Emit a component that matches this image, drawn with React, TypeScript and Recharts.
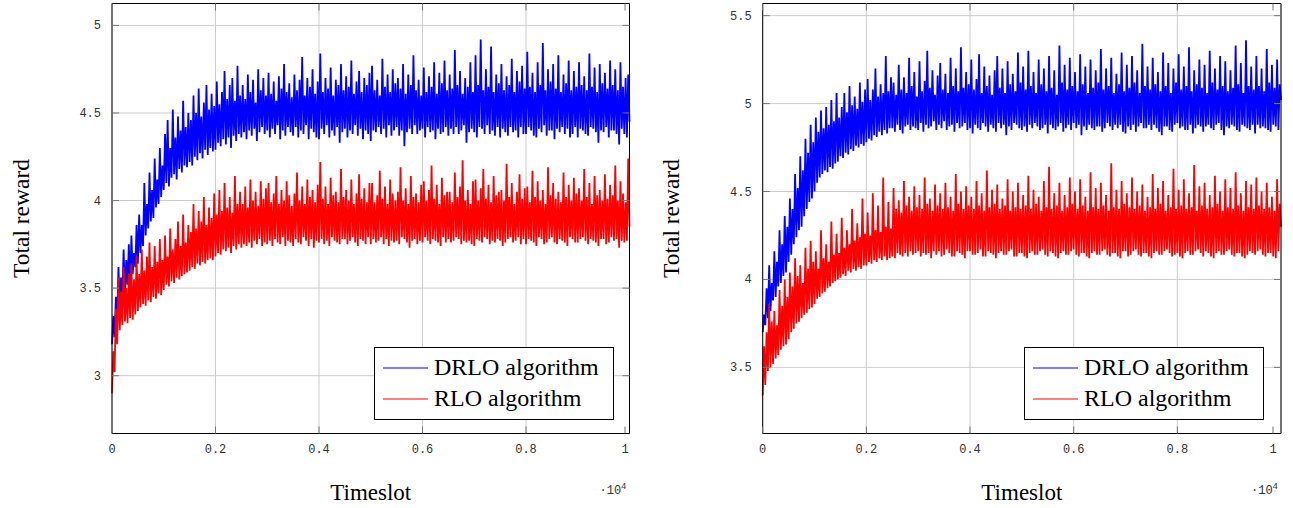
import React from 'react';
import { LineChart, Line, XAxis, YAxis, CartesianGrid, Legend } from 'recharts';

// one sample every 25 timeslots, 0 .. 10000 (401 samples per run)
const SAMPLE_STEP = 25;

// left panel
const leftDrlo = [
  3.18, 3.34, 3.22, 3.45, 3.31, 3.62, 3.40, 3.56, 3.47, 3.72, 3.45, 3.66, 3.52, 3.75, 3.50, 3.80, 3.58, 3.70, 3.62, 3.86,
  3.64, 3.92, 3.70, 3.86, 3.74, 4.10, 3.80, 3.98, 3.84, 4.16, 3.88, 4.06, 3.90, 4.24, 3.96, 4.12, 3.98, 4.30, 4.02, 4.20,
  4.06, 4.38, 4.10, 4.46, 4.08, 4.30, 4.13, 4.52, 4.15, 4.36, 4.12, 4.48, 4.18, 4.40, 4.16, 4.57, 4.20, 4.42, 4.19, 4.50,
  4.22, 4.46, 4.20, 4.60, 4.25, 4.50, 4.23, 4.64, 4.27, 4.48, 4.24, 4.56, 4.29, 4.66, 4.26, 4.52, 4.30, 4.61, 4.28, 4.54,
  4.29, 4.68, 4.33, 4.55, 4.31, 4.62, 4.35, 4.74, 4.32, 4.58, 4.36, 4.66, 4.30, 4.70, 4.37, 4.57, 4.34, 4.77, 4.38, 4.60,
  4.36, 4.66, 4.39, 4.58, 4.35, 4.72, 4.40, 4.62, 4.37, 4.69, 4.41, 4.56, 4.34, 4.75, 4.39, 4.63, 4.42, 4.70, 4.38, 4.60,
  4.40, 4.73, 4.36, 4.61, 4.41, 4.68, 4.38, 4.57, 4.43, 4.71, 4.35, 4.64, 4.40, 4.78, 4.37, 4.62, 4.42, 4.67, 4.39, 4.59,
  4.37, 4.72, 4.42, 4.63, 4.36, 4.69, 4.40, 4.82, 4.38, 4.60, 4.43, 4.70, 4.35, 4.65, 4.41, 4.75, 4.39, 4.61, 4.36, 4.68,
  4.35, 4.84, 4.41, 4.62, 4.38, 4.70, 4.43, 4.64, 4.36, 4.76, 4.40, 4.60, 4.37, 4.69, 4.42, 4.66, 4.33, 4.78, 4.39, 4.63,
  4.41, 4.71, 4.36, 4.65, 4.40, 4.80, 4.38, 4.61, 4.43, 4.68, 4.37, 4.74, 4.41, 4.62, 4.35, 4.70, 4.40, 4.66, 4.38, 4.73,
  4.34, 4.77, 4.40, 4.63, 4.39, 4.69, 4.42, 4.60, 4.38, 4.81, 4.41, 4.65, 4.36, 4.72, 4.43, 4.62, 4.37, 4.75, 4.40, 4.67,
  4.42, 4.70, 4.37, 4.64, 4.40, 4.78, 4.31, 4.61, 4.39, 4.72, 4.41, 4.66, 4.38, 4.83, 4.43, 4.63, 4.38, 4.69, 4.40, 4.60,
  4.41, 4.76, 4.36, 4.62, 4.42, 4.71, 4.39, 4.65, 4.40, 4.79, 4.35, 4.61, 4.41, 4.73, 4.38, 4.67, 4.39, 4.80, 4.42, 4.63,
  4.37, 4.72, 4.41, 4.64, 4.38, 4.86, 4.42, 4.66, 4.38, 4.74, 4.40, 4.61, 4.43, 4.70, 4.33, 4.65, 4.39, 4.79, 4.41, 4.62,
  4.39, 4.83, 4.36, 4.66, 4.42, 4.92, 4.41, 4.63, 4.38, 4.75, 4.43, 4.65, 4.38, 4.88, 4.40, 4.62, 4.37, 4.72, 4.42, 4.67,
  4.36, 4.78, 4.41, 4.63, 4.39, 4.71, 4.37, 4.66, 4.42, 4.81, 4.39, 4.62, 4.40, 4.74, 4.36, 4.68, 4.42, 4.77, 4.38, 4.64,
  4.38, 4.85, 4.42, 4.65, 4.40, 4.73, 4.37, 4.62, 4.36, 4.79, 4.41, 4.66, 4.39, 4.90, 4.43, 4.63, 4.37, 4.75, 4.40, 4.68,
  4.40, 4.78, 4.35, 4.64, 4.41, 4.83, 4.39, 4.62, 4.42, 4.72, 4.38, 4.67, 4.41, 4.80, 4.36, 4.63, 4.38, 4.74, 4.42, 4.65,
  4.36, 4.79, 4.41, 4.66, 4.40, 4.71, 4.38, 4.63, 4.37, 4.84, 4.42, 4.65, 4.41, 4.76, 4.39, 4.62, 4.33, 4.78, 4.40, 4.67,
  4.39, 4.73, 4.42, 4.64, 4.36, 4.80, 4.40, 4.66, 4.40, 4.75, 4.38, 4.63, 4.32, 4.79, 4.41, 4.65, 4.38, 4.70, 4.36, 4.72,
  4.45,
];
const leftRlo = [
  2.90, 3.14, 3.02, 3.38, 3.18, 3.56, 3.26, 3.48, 3.29, 3.62, 3.31, 3.50, 3.30, 3.58, 3.33, 3.64, 3.32, 3.55, 3.35, 3.68,
  3.37, 3.58, 3.39, 3.72, 3.41, 3.60, 3.40, 3.68, 3.43, 3.76, 3.42, 3.62, 3.45, 3.74, 3.44, 3.65, 3.47, 3.78, 3.46, 3.66,
  3.49, 3.80, 3.52, 3.68, 3.51, 3.84, 3.54, 3.72, 3.53, 3.78, 3.56, 3.88, 3.55, 3.74, 3.57, 3.92, 3.58, 3.76, 3.59, 3.86,
  3.60, 3.82, 3.62, 3.98, 3.61, 3.84, 3.64, 3.94, 3.63, 3.88, 3.65, 4.02, 3.64, 3.86, 3.66, 3.96, 3.67, 3.90, 3.66, 4.04,
  3.68, 3.92, 3.70, 4.06, 3.69, 3.94, 3.72, 4.10, 3.71, 3.96, 3.73, 4.02, 3.70, 3.93, 3.74, 4.14, 3.72, 3.98, 3.75, 4.05,
  3.73, 3.98, 3.75, 4.08, 3.74, 3.96, 3.76, 4.12, 3.73, 4.00, 3.77, 4.05, 3.75, 3.97, 3.78, 4.11, 3.74, 4.01, 3.76, 4.07,
  3.75, 4.10, 3.77, 3.99, 3.74, 4.04, 3.78, 4.14, 3.76, 3.98, 3.75, 4.06, 3.79, 4.00, 3.74, 4.11, 3.77, 4.03, 3.76, 3.97,
  3.74, 4.04, 3.78, 4.16, 3.76, 4.00, 3.75, 4.08, 3.79, 3.98, 3.77, 4.12, 3.74, 4.02, 3.78, 4.06, 3.73, 3.99, 3.77, 4.09,
  3.76, 4.22, 3.78, 4.01, 3.75, 4.08, 3.77, 3.98, 3.74, 4.13, 3.79, 4.03, 3.77, 4.05, 3.76, 3.99, 3.75, 4.18, 3.78, 4.02,
  3.78, 4.06, 3.75, 4.00, 3.77, 4.12, 3.79, 3.98, 3.76, 4.04, 3.74, 4.15, 3.78, 4.01, 3.77, 4.07, 3.75, 3.99, 3.79, 4.10,
  3.75, 4.10, 3.78, 3.99, 3.76, 4.03, 3.77, 4.17, 3.79, 4.01, 3.75, 4.08, 3.78, 3.98, 3.74, 4.12, 3.77, 4.04, 3.76, 4.00,
  3.77, 4.05, 3.75, 4.19, 3.79, 4.00, 3.78, 4.07, 3.76, 3.98, 3.73, 4.14, 3.77, 4.02, 3.78, 4.04, 3.75, 3.99, 3.77, 4.09,
  3.76, 4.11, 3.79, 4.00, 3.77, 4.06, 3.75, 4.20, 3.78, 4.01, 3.77, 4.09, 3.76, 3.98, 3.74, 4.13, 3.79, 4.03, 3.76, 4.05,
  3.78, 4.05, 3.76, 3.99, 3.77, 4.16, 3.79, 4.02, 3.78, 4.08, 3.75, 4.23, 3.77, 4.00, 3.76, 4.06, 3.77, 3.98, 3.75, 4.11,
  3.74, 4.12, 3.78, 4.00, 3.77, 4.07, 3.76, 4.18, 3.79, 4.01, 3.78, 4.09, 3.75, 3.99, 3.77, 4.14, 3.76, 4.03, 3.78, 4.05,
  3.77, 4.06, 3.74, 4.00, 3.76, 4.21, 3.78, 4.02, 3.79, 4.10, 3.76, 3.98, 3.77, 4.05, 3.79, 4.15, 3.75, 4.01, 3.78, 4.07,
  3.75, 4.08, 3.78, 3.99, 3.77, 4.17, 3.76, 4.02, 3.74, 4.11, 3.79, 4.00, 3.78, 4.06, 3.75, 3.98, 3.76, 4.19, 3.78, 4.03,
  3.79, 4.10, 3.76, 4.01, 3.75, 4.05, 3.78, 3.99, 3.77, 4.16, 3.76, 4.02, 3.74, 4.09, 3.79, 4.00, 3.78, 4.13, 3.76, 4.04,
  3.76, 4.07, 3.78, 4.00, 3.79, 4.18, 3.77, 4.02, 3.75, 4.10, 3.78, 3.98, 3.77, 4.14, 3.76, 4.03, 3.74, 4.06, 3.78, 4.00,
  3.78, 4.15, 3.75, 4.01, 3.76, 4.09, 3.79, 4.03, 3.77, 4.20, 3.78, 4.00, 3.73, 4.11, 3.77, 4.04, 3.76, 3.99, 3.77, 4.24,
  3.85,
];

// right panel
const rightDrlo = [
  3.70, 3.80, 3.74, 3.95, 3.78, 4.08, 3.82, 3.98, 3.88, 4.16, 3.90, 4.10, 3.96, 4.28, 3.98, 4.20, 4.02, 4.36, 4.04, 4.30,
  4.10, 4.46, 4.14, 4.40, 4.20, 4.60, 4.24, 4.52, 4.28, 4.70, 4.30, 4.62, 4.36, 4.80, 4.40, 4.72, 4.44, 4.88, 4.46, 4.78,
  4.50, 4.92, 4.55, 4.84, 4.58, 4.96, 4.60, 4.86, 4.62, 4.98, 4.61, 4.88, 4.64, 5.02, 4.63, 4.90, 4.66, 5.06, 4.67, 4.92,
  4.70, 4.98, 4.69, 5.06, 4.72, 4.95, 4.71, 5.10, 4.74, 4.99, 4.73, 5.04, 4.76, 4.97, 4.75, 5.12, 4.77, 5.01, 4.76, 5.08,
  4.78, 5.14, 4.80, 5.02, 4.79, 5.08, 4.82, 5.20, 4.81, 5.04, 4.84, 5.11, 4.82, 5.06, 4.85, 5.27, 4.83, 5.07, 4.86, 5.15,
  4.86, 5.12, 4.84, 5.05, 4.88, 5.22, 4.85, 5.08, 4.83, 5.15, 4.87, 5.06, 4.88, 5.26, 4.85, 5.10, 4.87, 5.18, 4.86, 5.04,
  4.85, 5.24, 4.89, 5.07, 4.84, 5.13, 4.88, 5.30, 4.86, 5.09, 4.87, 5.19, 4.90, 5.05, 4.85, 5.16, 4.88, 5.23, 4.86, 5.08,
  4.90, 5.17, 4.85, 5.06, 4.87, 5.26, 4.88, 5.10, 4.84, 5.20, 4.89, 5.07, 4.86, 5.32, 4.87, 5.09, 4.89, 5.18, 4.85, 5.11,
  4.86, 5.25, 4.83, 5.08, 4.88, 5.14, 4.86, 5.28, 4.85, 5.06, 4.89, 5.21, 4.87, 5.10, 4.84, 5.16, 4.88, 5.05, 4.86, 5.19,
  4.84, 5.27, 4.89, 5.09, 4.86, 5.20, 4.88, 5.06, 4.82, 5.24, 4.87, 5.11, 4.85, 5.17, 4.89, 5.07, 4.88, 5.29, 4.86, 5.12,
  4.85, 5.21, 4.87, 5.08, 4.84, 5.30, 4.88, 5.10, 4.86, 5.18, 4.89, 5.06, 4.87, 5.25, 4.85, 5.11, 4.86, 5.20, 4.88, 5.07,
  4.83, 5.27, 4.88, 5.09, 4.86, 5.19, 4.85, 5.05, 4.87, 5.33, 4.89, 5.12, 4.84, 5.22, 4.86, 5.08, 4.88, 5.26, 4.85, 5.10,
  4.89, 5.18, 4.86, 5.07, 4.88, 5.28, 4.82, 5.11, 4.87, 5.21, 4.85, 5.06, 4.88, 5.25, 4.86, 5.09, 4.85, 5.19, 4.87, 5.12,
  4.87, 5.31, 4.84, 5.08, 4.86, 5.20, 4.89, 5.10, 4.87, 5.26, 4.85, 5.06, 4.88, 5.17, 4.86, 5.11, 4.88, 5.29, 4.84, 5.07,
  4.83, 5.22, 4.87, 5.09, 4.85, 5.27, 4.88, 5.12, 4.84, 5.19, 4.87, 5.06, 4.89, 5.34, 4.86, 5.10, 4.86, 5.21, 4.88, 5.08,
  4.85, 5.26, 4.88, 5.11, 4.86, 5.18, 4.84, 5.07, 4.82, 5.29, 4.87, 5.10, 4.87, 5.23, 4.85, 5.06, 4.84, 5.20, 4.88, 5.12,
  4.89, 5.28, 4.86, 5.08, 4.87, 5.21, 4.85, 5.10, 4.85, 5.32, 4.88, 5.07, 4.83, 5.19, 4.86, 5.11, 4.88, 5.25, 4.87, 5.09,
  4.84, 5.22, 4.87, 5.06, 4.88, 5.30, 4.86, 5.12, 4.85, 5.20, 4.88, 5.08, 4.89, 5.27, 4.85, 5.10, 4.82, 5.24, 4.87, 5.07,
  4.86, 5.19, 4.88, 5.09, 4.87, 5.33, 4.85, 5.11, 4.84, 5.23, 4.88, 5.06, 4.87, 5.36, 4.86, 5.10, 4.85, 5.21, 4.88, 5.08,
  4.83, 5.27, 4.88, 5.10, 4.86, 5.20, 4.87, 5.07, 4.86, 5.31, 4.85, 5.12, 4.84, 5.22, 4.88, 5.09, 4.87, 5.25, 4.85, 5.11,
  5.02,
];
const rightRlo = [
  3.34, 3.62, 3.40, 3.70, 3.48, 3.86, 3.50, 3.76, 3.52, 3.82, 3.55, 3.74, 3.57, 3.94, 3.60, 3.85, 3.62, 4.00, 3.63, 3.90,
  3.66, 4.04, 3.70, 3.96, 3.72, 4.12, 3.75, 4.02, 3.76, 4.08, 3.78, 3.98, 3.80, 4.18, 3.81, 4.06, 3.83, 4.22, 3.84, 4.10,
  3.86, 4.16, 3.89, 4.06, 3.90, 4.28, 3.92, 4.12, 3.93, 4.20, 3.95, 4.10, 3.96, 4.33, 3.98, 4.14, 3.99, 4.26, 4.00, 4.15,
  4.01, 4.35, 4.03, 4.18, 4.02, 4.28, 4.05, 4.20, 4.04, 4.40, 4.06, 4.22, 4.05, 4.32, 4.07, 4.24, 4.06, 4.46, 4.08, 4.26,
  4.08, 4.38, 4.10, 4.25, 4.09, 4.49, 4.11, 4.28, 4.10, 4.42, 4.12, 4.27, 4.11, 4.58, 4.13, 4.30, 4.11, 4.44, 4.12, 4.29,
  4.13, 4.52, 4.12, 4.40, 4.15, 4.45, 4.14, 4.38, 4.13, 4.56, 4.15, 4.42, 4.13, 4.47, 4.16, 4.39, 4.14, 4.53, 4.15, 4.41,
  4.16, 4.48, 4.13, 4.40, 4.15, 4.58, 4.14, 4.43, 4.15, 4.46, 4.12, 4.39, 4.16, 4.54, 4.14, 4.42, 4.16, 4.49, 4.13, 4.40,
  4.14, 4.55, 4.17, 4.41, 4.15, 4.47, 4.13, 4.39, 4.13, 4.60, 4.16, 4.43, 4.15, 4.50, 4.14, 4.40, 4.12, 4.53, 4.16, 4.42,
  4.16, 4.47, 4.14, 4.40, 4.14, 4.56, 4.15, 4.42, 4.17, 4.49, 4.13, 4.39, 4.13, 4.62, 4.16, 4.41, 4.15, 4.51, 4.14, 4.43,
  4.12, 4.54, 4.15, 4.40, 4.16, 4.46, 4.14, 4.42, 4.14, 4.57, 4.16, 4.39, 4.17, 4.50, 4.13, 4.41, 4.13, 4.55, 4.15, 4.40,
  4.15, 4.48, 4.13, 4.42, 4.12, 4.59, 4.15, 4.40, 4.16, 4.51, 4.14, 4.43, 4.14, 4.47, 4.16, 4.39, 4.17, 4.56, 4.14, 4.41,
  4.13, 4.64, 4.16, 4.40, 4.15, 4.49, 4.13, 4.42, 4.12, 4.55, 4.15, 4.39, 4.16, 4.48, 4.14, 4.41, 4.14, 4.58, 4.16, 4.43,
  4.17, 4.50, 4.14, 4.40, 4.13, 4.57, 4.15, 4.42, 4.15, 4.47, 4.13, 4.39, 4.12, 4.61, 4.15, 4.41, 4.16, 4.52, 4.14, 4.40,
  4.14, 4.55, 4.16, 4.42, 4.17, 4.48, 4.14, 4.39, 4.13, 4.66, 4.15, 4.41, 4.15, 4.51, 4.13, 4.40, 4.12, 4.56, 4.16, 4.43,
  4.16, 4.49, 4.13, 4.41, 4.14, 4.58, 4.16, 4.40, 4.17, 4.50, 4.14, 4.42, 4.13, 4.54, 4.15, 4.39, 4.15, 4.47, 4.13, 4.41,
  4.12, 4.60, 4.15, 4.40, 4.16, 4.52, 4.14, 4.43, 4.14, 4.56, 4.16, 4.39, 4.17, 4.48, 4.15, 4.41, 4.13, 4.63, 4.14, 4.40,
  4.15, 4.51, 4.13, 4.42, 4.12, 4.57, 4.15, 4.40, 4.16, 4.49, 4.14, 4.41, 4.14, 4.65, 4.16, 4.39, 4.17, 4.53, 4.15, 4.42,
  4.13, 4.55, 4.16, 4.40, 4.15, 4.48, 4.13, 4.41, 4.12, 4.59, 4.15, 4.43, 4.16, 4.50, 4.14, 4.39, 4.14, 4.57, 4.16, 4.41,
  4.17, 4.52, 4.14, 4.40, 4.13, 4.61, 4.15, 4.42, 4.15, 4.49, 4.13, 4.39, 4.12, 4.56, 4.14, 4.41, 4.16, 4.54, 4.15, 4.40,
  4.14, 4.58, 4.16, 4.42, 4.17, 4.50, 4.14, 4.40, 4.13, 4.55, 4.15, 4.41, 4.15, 4.47, 4.13, 4.39, 4.12, 4.57, 4.16, 4.43,
  4.30,
];

const xTicks = [0, 2000, 4000, 6000, 8000, 10000];
const xTickLabels = ['0', '0.2', '0.4', '0.6', '0.8', '1'];
const leftYTicks = [3, 3.5, 4, 4.5, 5];
const leftYTickLabels = ['3', '3.5', '4', '4.5', '5'];
const rightYTicks = [3.5, 4, 4.5, 5, 5.5];
const rightYTickLabels = ['3.5', '4', '4.5', '5', '5.5'];

const seriesNames = ['DRLO algorithm', 'RLO algorithm'];
const seriesColors = ['#0000ff', '#ff0000'];

const SERIF = '"Liberation Serif", "Times New Roman", serif';
const MONO = '"Liberation Mono", "Courier New", monospace';
const TICK_LEN = 7;
const SERIES_WIDTH = 1.8;

const labelFor = (ticks: number[], labels: string[], v: number) => {
  const i = ticks.indexOf(v);
  return i >= 0 ? labels[i] : String(v);
};

const makeYTick = (ticks: number[], labels: string[]) => (props: any) => {
  const { x, y, payload } = props;
  const axisX = x + 11;
  return (
    <g>
      <line x1={axisX} x2={axisX + TICK_LEN} y1={y} y2={y} stroke="#777" />
      <text x={x} y={y} dy={4} textAnchor="end" fontFamily={MONO} fontSize={12} fill="#333">
        {labelFor(ticks, labels, payload.value)}
      </text>
    </g>
  );
};

const XTick = (props: any) => {
  const { x, y, payload } = props;
  const axisY = y - 19;
  return (
    <g>
      <line x1={x} x2={x} y1={axisY} y2={axisY - TICK_LEN} stroke="#777" />
      <text x={x} y={y} textAnchor="middle" fontFamily={MONO} fontSize={12} fill="#333">
        {labelFor(xTicks, xTickLabels, payload.value)}
      </text>
    </g>
  );
};

// mirrored axes on top / right: only inward tick marks, no labels
const TopTick = (props: any) => (
  <line x1={props.x} x2={props.x} y1={props.y} y2={props.y + TICK_LEN} stroke="#777" />
);

const RightTick = (props: any) => (
  <line x1={props.x - TICK_LEN} x2={props.x} y1={props.y} y2={props.y} stroke="#777" />
);

const LegendBox = () => (
  <svg width={240} height={73} style={{ display: 'block' }}>
    <rect x={0.5} y={0.5} width={239} height={72} fill="#fff" stroke="#000" />
    {seriesNames.map((name, i) => (
      <g key={name}>
        <line x1={9} x2={54} y1={21 + i * 31} y2={21 + i * 31} stroke={seriesColors[i]} strokeWidth={1} />
        <text x={60} y={28 + i * 31} fontFamily={SERIF} fontSize={24} fill="#000">
          {name}
        </text>
      </g>
    ))}
  </svg>
);

type PanelProps = {
  drlo: number[];
  rlo: number[];
  yDomain: [number, number];
  yTicks: number[];
  yTickLabels: string[];
  left: number;
  width: number;
  yAxisWidth: number;
  marginRight: number;
};

const Panel = ({ drlo, rlo, yDomain, yTicks, yTickLabels, left, width, yAxisWidth, marginRight }: PanelProps) => {
  const data = drlo.map((v, i) => ({ t: i * SAMPLE_STEP, drlo: v, rlo: rlo[i] }));
  const plotRight = width - marginRight;
  return (
    <div style={{ position: 'absolute', left, top: 0 }}>
      <LineChart width={width} height={508} data={data} margin={{ top: 2.5, right: marginRight - 1, left: 0, bottom: 0 }}>
        <CartesianGrid stroke="#cccccc" />
        <XAxis
          dataKey="t"
          type="number"
          domain={[0, 10000]}
          ticks={xTicks}
          height={74.5}
          axisLine={{ stroke: '#000' }}
          tickLine={false}
          tickSize={0}
          tickMargin={19}
          tick={XTick}
          label={{
            content: (p: any) => {
              const vb = p.viewBox;
              return (
                <g>
                  <text x={vb.x + vb.width / 2} y={vb.y + 66} textAnchor="middle" fontFamily={SERIF} fontSize={23} fill="#000">
                    Timeslot
                  </text>
                  <text x={plotRight - 3} y={vb.y + 60} textAnchor="end" fontFamily={MONO} fontSize={12} fill="#333">
                    ·10<tspan dy={-5} fontSize={9}>4</tspan>
                  </text>
                </g>
              );
            },
          }}
        />
        <XAxis
          xAxisId="frame"
          orientation="top"
          dataKey="t"
          type="number"
          domain={[0, 10000]}
          ticks={xTicks}
          height={1}
          axisLine={{ stroke: '#000' }}
          tickLine={false}
          tickSize={0}
          tickMargin={0}
          tick={TopTick}
        />
        <YAxis
          type="number"
          domain={yDomain}
          ticks={yTicks}
          width={yAxisWidth}
          allowDataOverflow
          axisLine={{ stroke: '#000' }}
          tickLine={false}
          tickSize={0}
          tickMargin={11}
          tick={makeYTick(yTicks, yTickLabels)}
          label={{
            content: (p: any) => {
              const vb = p.viewBox;
              const cy = vb.y + vb.height / 2;
              return (
                <text
                  x={28.5}
                  y={cy}
                  transform={`rotate(-90, 28.5, ${cy})`}
                  textAnchor="middle"
                  fontFamily={SERIF}
                  fontSize={23.5}
                  fill="#000"
                >
                  Total reward
                </text>
              );
            },
          }}
        />
        <YAxis
          yAxisId="frame"
          orientation="right"
          type="number"
          domain={yDomain}
          ticks={yTicks}
          width={1}
          allowDataOverflow
          axisLine={{ stroke: '#000' }}
          tickLine={false}
          tickSize={0}
          tickMargin={0}
          tick={RightTick}
        />
        <Legend
          layout="vertical"
          align="center"
          verticalAlign="middle"
          wrapperStyle={{ position: 'absolute', left: 374, top: 347, width: 240, height: 73 }}
          content={() => <LegendBox />}
        />
        {/* invisible series so the mirrored frame axes get drawn */}
        <Line
          xAxisId="frame"
          yAxisId="frame"
          dataKey="rlo"
          stroke="none"
          dot={false}
          activeDot={false}
          legendType="none"
          isAnimationActive={false}
        />
        <Line dataKey="drlo" name={seriesNames[0]} stroke={seriesColors[0]} strokeWidth={SERIES_WIDTH} dot={false} isAnimationActive={false} />
        <Line dataKey="rlo" name={seriesNames[1]} stroke={seriesColors[1]} strokeWidth={SERIES_WIDTH} dot={false} isAnimationActive={false} />
      </LineChart>
    </div>
  );
};

export default function App() {
  return (
    <div style={{ position: 'absolute', left: 0, top: 0, width: 1293, height: 508, background: '#fff' }}>
      <Panel
        drlo={leftDrlo}
        rlo={leftRlo}
        yDomain={[2.67, 5.125]}
        yTicks={leftYTicks}
        yTickLabels={leftYTickLabels}
        left={0}
        width={645}
        yAxisWidth={112}
        marginRight={15.5}
      />
      <Panel
        drlo={rightDrlo}
        rlo={rightRlo}
        yDomain={[3.124, 5.569]}
        yTicks={rightYTicks}
        yTickLabels={rightYTickLabels}
        left={650}
        width={643}
        yAxisWidth={112.7}
        marginRight={12}
      />
    </div>
  );
}
